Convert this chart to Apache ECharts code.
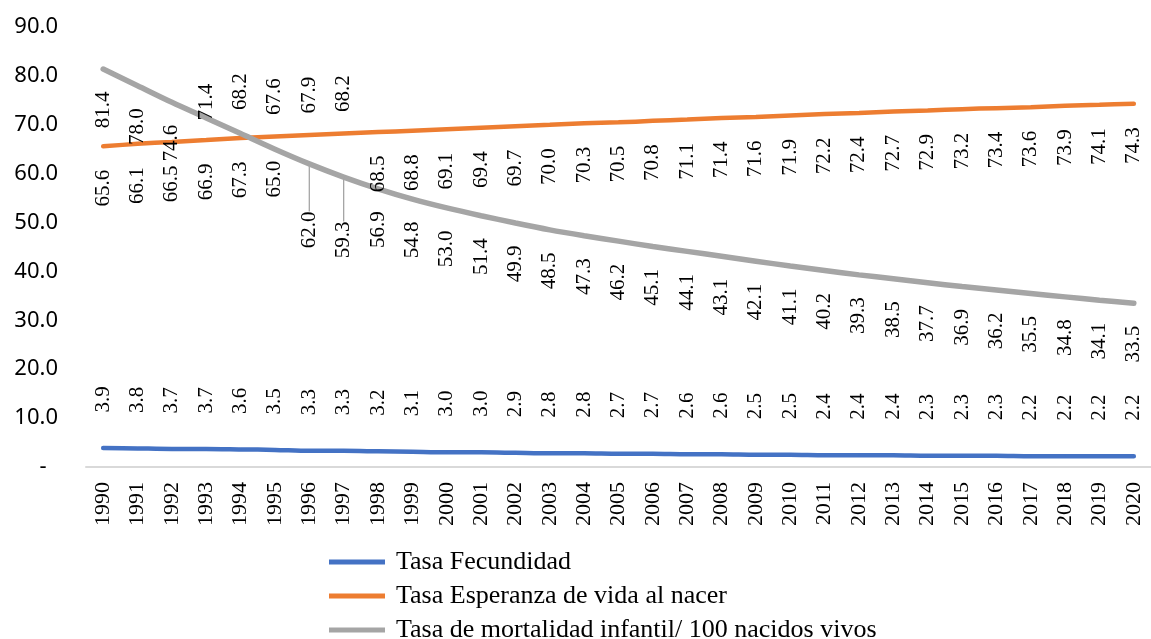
<!DOCTYPE html>
<html>
<head>
<meta charset="utf-8">
<script src="https://cdn.jsdelivr.net/npm/echarts@6/dist/echarts.min.js"></script>
<style>
html,body{margin:0;padding:0;background:#fff;}
#chart{width:1151px;height:639px;}
</style>
</head>
<body>
<div id="chart"></div>
<script>
const years = ['1990','1991','1992','1993','1994','1995','1996','1997','1998','1999','2000','2001','2002','2003','2004','2005','2006','2007','2008','2009','2010','2011','2012','2013','2014','2015','2016','2017','2018','2019','2020'];
const fecundidad = [3.9,3.8,3.7,3.7,3.6,3.5,3.3,3.3,3.2,3.1,3.0,3.0,2.9,2.8,2.8,2.7,2.7,2.6,2.6,2.5,2.5,2.4,2.4,2.4,2.3,2.3,2.3,2.2,2.2,2.2,2.2];
const esperanza = [65.6,66.1,66.5,66.9,67.3,67.6,67.9,68.2,68.5,68.8,69.1,69.4,69.7,70.0,70.3,70.5,70.8,71.1,71.4,71.6,71.9,72.2,72.4,72.7,72.9,73.2,73.4,73.6,73.9,74.1,74.3];
const mortalidad = [81.4,78.0,74.6,71.4,68.2,65.0,62.0,59.3,56.9,54.8,53.0,51.4,49.9,48.5,47.3,46.2,45.1,44.1,43.1,42.1,41.1,40.2,39.3,38.5,37.7,36.9,36.2,35.5,34.8,34.1,33.5];
const seriesNames = ['Tasa Fecundidad','Tasa Esperanza de vida al nacer','Tasa de mortalidad infantil/ 100 nacidos vivos'];
const colors = ['#4472C4','#ED7D31','#A5A5A5'];

const SERIF = '"Liberation Serif","Times New Roman",serif';
const fmt1 = p => p.value.toFixed(1);

function up(d){return {show:true,position:'top',distance:d,rotate:90,align:'left',verticalAlign:'middle',formatter:fmt1,fontFamily:SERIF,fontSize:21,color:'#000'};}
function down(d){return {show:true,position:'bottom',distance:d,rotate:90,align:'right',verticalAlign:'middle',formatter:fmt1,fontFamily:SERIF,fontSize:21,color:'#000'};}

const fecData = fecundidad.map(v => ({value:v}));
const espData = esperanza.map((v,i) => ({value:v, label:(i>=5 && i<=7) ? up(21) : down(23)}));
const morData = mortalidad.map((v,i) => {
  let lab;
  if (i===3) lab = up(-3);
  else if (i===4) lab = up(23);
  else if (i===5) lab = down(11);
  else if (i===6) lab = down(47);
  else if (i===7) lab = down(44);
  else lab = down(22);
  const item = {value:v, label:lab};
  if (i===6 || i===7) item.labelLine = {show:true, smooth:false, lineStyle:{color:'#A5A5A5', width:1.3}};
  return item;
});

function lineSeries(name, data, color, width, label){
  return {
    name, type:'line', data, smooth:0.3,
    symbol:'circle', symbolSize:1, showSymbol:true,
    itemStyle:{color}, lineStyle:{color, width, cap:'round'},
    label, emphasis:{disabled:true}, z:2
  };
}

const chart = echarts.init(document.getElementById('chart'), null, {renderer:'canvas'});
chart.setOption({
  animation:false,
  backgroundColor:'#fff',
  grid:{left:86, right:-4, top:27, bottom:172},
  xAxis:{
    type:'category', data:years, boundaryGap:true,
    axisLine:{show:true, lineStyle:{color:'#D9D9D9', width:2}},
    axisTick:{show:false},
    axisLabel:{rotate:90, margin:15, fontFamily:SERIF, fontSize:22, color:'#000', interval:0}
  },
  yAxis:{
    type:'value', min:0, max:90, interval:10,
    splitLine:{show:false}, axisLine:{show:false}, axisTick:{show:false},
    axisLabel:{margin:28, fontFamily:'"Noto Sans",sans-serif', fontSize:22, color:'#000',
      formatter: v => v===0 ? '-  ' : v.toFixed(1)}
  },
  legend:{
    orient:'vertical', left:329, top:549, height:110, padding:0,
    itemWidth:56, itemHeight:5, itemGap:8, icon:'rect',
    data:seriesNames,
    textStyle:{fontFamily:SERIF, fontSize:26, color:'#000', lineHeight:26, padding:[0,0,0,6]}
  },
  series:[
    lineSeries(seriesNames[0], fecData, colors[0], 4.5, up(35)),
    lineSeries(seriesNames[1], espData, colors[1], 4.5, {show:true}),
    lineSeries(seriesNames[2], morData, colors[2], 5.5, {show:true})
  ]
});
</script>
</body>
</html>
